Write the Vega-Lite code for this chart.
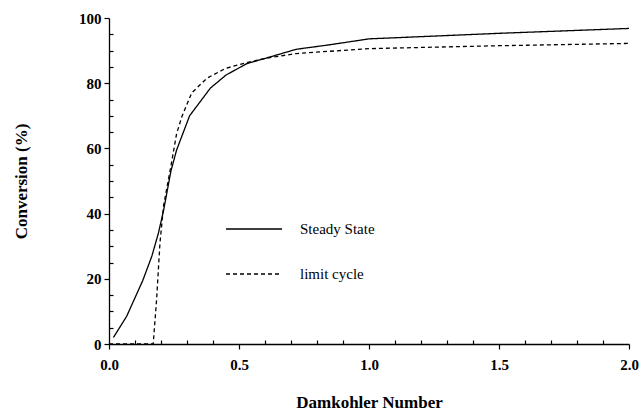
{
  "$schema": "https://vega.github.io/schema/vega-lite/v6.json",
  "autosize": "none",
  "width": 520,
  "height": 326,
  "padding": {"left": 109, "top": 18, "right": 13, "bottom": 75},
  "background": "white",
  "config": {
    "view": {"stroke": null},
    "font": "Liberation Serif",
    "axis": {
      "domainColor": "black",
      "domainWidth": 1.3,
      "tickColor": "black",
      "tickWidth": 1.2,
      "grid": false,
      "labelFont": "Liberation Serif",
      "labelFontWeight": "bold",
      "labelFontSize": 15,
      "labelColor": "black",
      "titleFont": "Liberation Serif",
      "titleFontWeight": "bold",
      "titleFontSize": 17,
      "titleColor": "black"
    },
    "legend": {"labelFont": "Liberation Serif"}
  },
  "data": {
    "values": [
      {"x": 0.017, "y": 2, "series": "Steady State"},
      {"x": 0.068, "y": 8.5, "series": "Steady State"},
      {"x": 0.13, "y": 19.5, "series": "Steady State"},
      {"x": 0.165, "y": 27, "series": "Steady State"},
      {"x": 0.19, "y": 34, "series": "Steady State"},
      {"x": 0.21, "y": 41, "series": "Steady State"},
      {"x": 0.238, "y": 53, "series": "Steady State"},
      {"x": 0.26, "y": 59.5, "series": "Steady State"},
      {"x": 0.31, "y": 70, "series": "Steady State"},
      {"x": 0.39, "y": 78.5, "series": "Steady State"},
      {"x": 0.45, "y": 82.5, "series": "Steady State"},
      {"x": 0.53, "y": 86, "series": "Steady State"},
      {"x": 0.6, "y": 87.6, "series": "Steady State"},
      {"x": 0.72, "y": 90.4, "series": "Steady State"},
      {"x": 0.85, "y": 91.8, "series": "Steady State"},
      {"x": 1.0, "y": 93.6, "series": "Steady State"},
      {"x": 1.5, "y": 95.3, "series": "Steady State"},
      {"x": 2.0, "y": 96.8, "series": "Steady State"},
      {"x": 0.0, "y": 0, "series": "limit cycle"},
      {"x": 0.17, "y": 0, "series": "limit cycle"},
      {"x": 0.183, "y": 13.5, "series": "limit cycle"},
      {"x": 0.196, "y": 31, "series": "limit cycle"},
      {"x": 0.21, "y": 42.5, "series": "limit cycle"},
      {"x": 0.238, "y": 54.5, "series": "limit cycle"},
      {"x": 0.26, "y": 64.5, "series": "limit cycle"},
      {"x": 0.28, "y": 69.7, "series": "limit cycle"},
      {"x": 0.318, "y": 77, "series": "limit cycle"},
      {"x": 0.376, "y": 81.5, "series": "limit cycle"},
      {"x": 0.45, "y": 84.6, "series": "limit cycle"},
      {"x": 0.53, "y": 86.3, "series": "limit cycle"},
      {"x": 0.6, "y": 87.6, "series": "limit cycle"},
      {"x": 0.72, "y": 89.1, "series": "limit cycle"},
      {"x": 0.85, "y": 89.8, "series": "limit cycle"},
      {"x": 1.0, "y": 90.6, "series": "limit cycle"},
      {"x": 1.5, "y": 91.5, "series": "limit cycle"},
      {"x": 2.0, "y": 92.2, "series": "limit cycle"}
    ]
  },
  "mark": {"type": "line", "color": "black", "strokeWidth": 1.3},
  "encoding": {
    "x": {
      "field": "x",
      "type": "quantitative",
      "scale": {"domain": [0, 2], "nice": false},
      "axis": {
        "title": "Damkohler Number",
        "values": [0, 0.1, 0.2, 0.3, 0.4, 0.5, 0.6, 0.7, 0.8, 0.9, 1.0, 1.1, 1.2, 1.3, 1.4, 1.5, 1.6, 1.7, 1.8, 1.9, 2.0],
        "format": ".1f",
        "labelExpr": "abs(datum.value*2 - round(datum.value*2)) < 0.001 ? datum.label : ''",
        "tickSize": {"condition": {"test": "abs(datum.value*2 - round(datum.value*2)) < 0.001", "value": 5}, "value": -4},
        "labelPadding": 8,
        "labelFlush": false,
        "labelOverlap": false,
        "titlePadding": 22
      }
    },
    "y": {
      "field": "y",
      "type": "quantitative",
      "scale": {"domain": [0, 100], "nice": false},
      "axis": {
        "title": "Conversion (%)",
        "values": [0, 5, 10, 15, 20, 25, 30, 35, 40, 45, 50, 55, 60, 65, 70, 75, 80, 85, 90, 95, 100],
        "labelExpr": "datum.value % 20 === 0 ? datum.label : ''",
        "tickSize": {"condition": {"test": "datum.value % 20 === 0", "value": 5}, "value": -4},
        "labelPadding": 3,
        "labelOverlap": false,
        "titlePadding": 48
      }
    },
    "strokeDash": {
      "field": "series",
      "type": "nominal",
      "scale": {"domain": ["Steady State", "limit cycle"], "range": [[1, 0], [4, 3]]},
      "legend": {
        "title": null,
        "orient": "none",
        "legendX": 116,
        "legendY": 182,
        "symbolType": "stroke",
        "symbolSize": 3136,
        "symbolStrokeWidth": 1.3,
        "symbolStrokeColor": "black",
        "labelFont": "Liberation Serif",
        "labelFontSize": 15,
        "labelColor": "black",
        "labelOffset": 17,
        "rowPadding": 8
      }
    }
  }
}
